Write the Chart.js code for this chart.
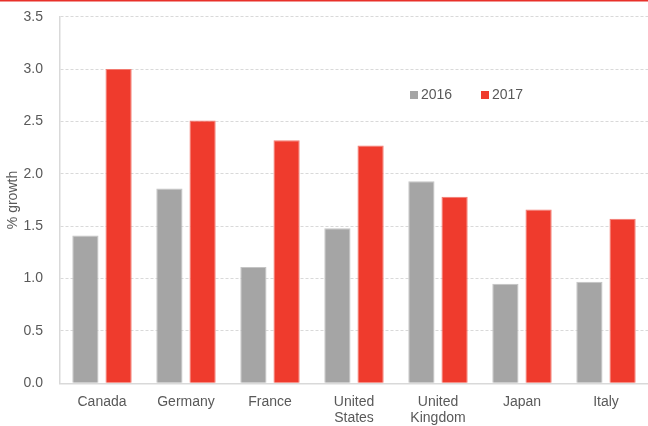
<!DOCTYPE html>
<html>
<head>
<meta charset="utf-8">
<script src="https://cdn.jsdelivr.net/npm/chart.js@4.4.1/dist/chart.umd.min.js"></script>
<style>
  html, body { margin: 0; padding: 0; background: #fff; }
  #wrap { width: 648px; height: 426px; position: relative; }
</style>
</head>
<body>
<div id="wrap"><canvas id="chart"></canvas></div>
<script>
const countries = ["Canada", "Germany", "France", ["United", "States"], ["United", "Kingdom"], "Japan", "Italy"]
const growth2016 = [1.41, 1.86, 1.11, 1.48, 1.93, 0.95, 0.97]
const growth2017 = [3.00, 2.51, 2.32, 2.27, 1.78, 1.66, 1.57]
const yTicks = [0, 0.5, 1.0, 1.5, 2.0, 2.5, 3.0, 3.5]

const textColor = "#595959"
const gridColor = "#d9d9d9"
const fontFamily = "'Liberation Sans', Arial, sans-serif"

// red rule across the top + legend inside the plot
const decorations = {
    id: "decorations",
    afterDraw: (chart) => {
        const ctx = chart.ctx
        ctx.save()
        ctx.fillStyle = "#e8312a"
        ctx.fillRect(0, 0, chart.width, 1.5)

        ctx.font = `14px ${fontFamily}`
        ctx.textBaseline = "middle"
        const spots = [410, 481]
        chart.data.datasets.forEach((ds, i) => {
            ctx.fillStyle = ds.backgroundColor
            ctx.fillRect(spots[i], 91, 8, 8)
            ctx.fillStyle = textColor
            ctx.fillText(ds.label, spots[i] + 11, 95.5)
        })
        ctx.restore()
    }
}

const ctx = document.querySelector("canvas#chart")

new Chart(ctx, {
    type: "bar",
    data: {
        labels: countries,
        datasets: [
            {
                label: "2016",
                data: growth2016,
                backgroundColor: "#a5a5a5",
                borderColor: "#c4c4c4",
                borderWidth: 1,
                categoryPercentage: 0.79,
                barPercentage: 0.79
            },
            {
                label: "2017",
                data: growth2017,
                backgroundColor: "#ef3b2d",
                borderColor: "#f27a70",
                borderWidth: 1,
                categoryPercentage: 0.79,
                barPercentage: 0.79
            }
        ]
    },
    options: {
        responsive: true,
        maintainAspectRatio: false,
        animation: false,
        layout: { padding: { top: 2, right: 0, bottom: 0, left: 5 } },
        plugins: {
            legend: { display: false },
            tooltip: { enabled: false }
        },
        scales: {
            x: {
                grid: { display: false },
                border: { color: gridColor, width: 1.5 },
                ticks: {
                    color: textColor,
                    font: { family: fontFamily, size: 14, lineHeight: 1.15 },
                    padding: 3,
                    maxRotation: 0,
                    autoSkip: false
                },
                afterFit: (scale) => { scale.height = 42.7 }
            },
            y: {
                min: 0,
                max: 3.5,
                afterBuildTicks: (scale) => { scale.ticks = yTicks.map(v => ({ value: v })) },
                grid: {
                    color: gridColor,
                    drawTicks: true,
                    tickLength: 8.7,
                    tickColor: "rgba(0,0,0,0)"
                },
                border: { color: gridColor, width: 1.5, dash: [3, 2] },
                ticks: {
                    color: textColor,
                    font: { family: fontFamily, size: 14 },
                    padding: 8.3,
                    callback: (v) => v.toFixed(1)
                },
                title: {
                    display: true,
                    text: "% growth",
                    color: textColor,
                    font: { family: fontFamily, size: 14 },
                    padding: 0
                },
                afterFit: (scale) => { scale.width = 55 }
            }
        }
    },
    plugins: [decorations]
})
</script>
</body>
</html>
